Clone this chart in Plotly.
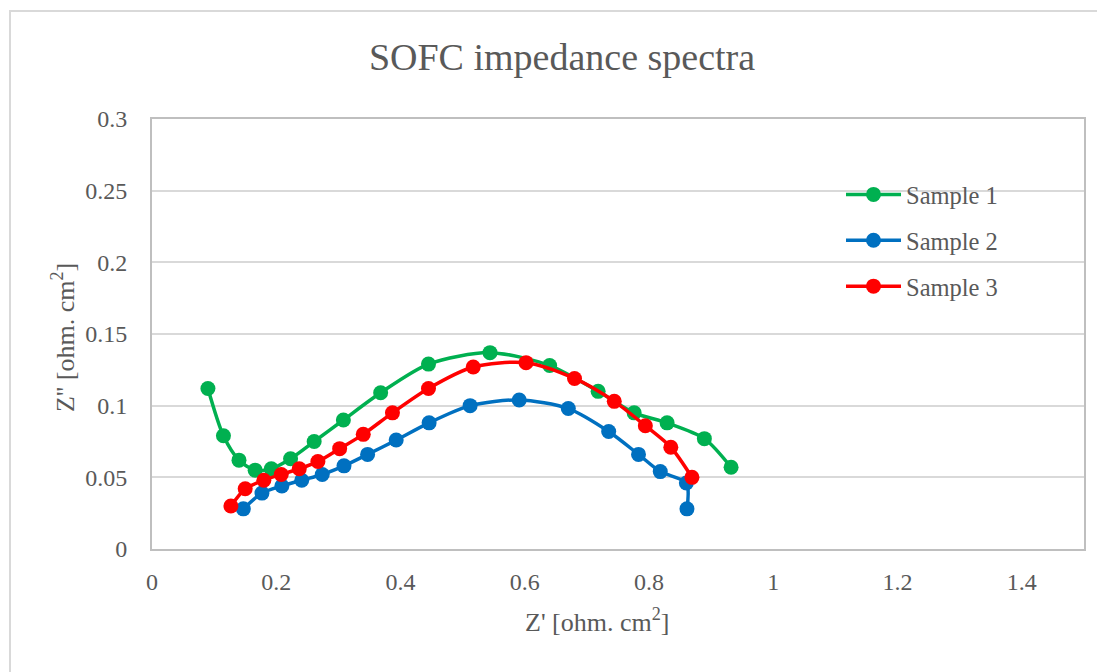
import plotly.graph_objects as go

# Data
s1_x = [0.090, 0.115, 0.140, 0.166, 0.192, 0.223, 0.261, 0.308, 0.368, 0.445, 0.544, 0.640, 0.718, 0.776, 0.829, 0.889, 0.932]
s1_y = [0.112, 0.079, 0.062, 0.055, 0.056, 0.063, 0.075, 0.090, 0.109, 0.129, 0.137, 0.128, 0.110, 0.095, 0.088, 0.077, 0.057]

s2_x = [0.147, 0.177, 0.209, 0.241, 0.274, 0.309, 0.347, 0.393, 0.446, 0.512, 0.591, 0.670, 0.735, 0.783, 0.818, 0.860, 0.861]
s2_y = [0.028, 0.039, 0.044, 0.048, 0.052, 0.058, 0.066, 0.076, 0.088, 0.100, 0.104, 0.098, 0.082, 0.066, 0.054, 0.046, 0.028]

s3_x = [0.127, 0.150, 0.180, 0.208, 0.237, 0.267, 0.302, 0.340, 0.387, 0.445, 0.517, 0.602, 0.680, 0.744, 0.794, 0.835, 0.869]
s3_y = [0.030, 0.042, 0.048, 0.052, 0.056, 0.061, 0.070, 0.080, 0.095, 0.112, 0.127, 0.130, 0.119, 0.103, 0.086, 0.071, 0.050]

names = ["Sample 1", "Sample 2", "Sample 3"]
colors = ["#00B050", "#0070C0", "#FF0000"]

x_ticks = [0, 0.2, 0.4, 0.6, 0.8, 1, 1.2, 1.4]
x_ticklabels = ["0", "0.2", "0.4", "0.6", "0.8", "1", "1.2", "1.4"]
y_ticks = [0, 0.05, 0.1, 0.15, 0.2, 0.25, 0.3]
y_ticklabels = ["0", "0.05", "0.1", "0.15", "0.2", "0.25", "0.3"]

FONT = "Liberation Serif, DejaVu Serif, serif"
TXT = "#595959"

fig = go.Figure()
for xs, ys, nm, col in zip([s1_x, s2_x, s3_x], [s1_y, s2_y, s3_y], names, colors):
    fig.add_trace(go.Scatter(
        x=xs, y=ys, name=nm, mode="lines+markers",
        line=dict(color=col, width=3.5, shape="spline", smoothing=0.8),
        marker=dict(color=col, size=15),
        legendgroup=nm,
    ))

# page body has an 8px margin: work in screen pixels and shift
OFF = 8
W, H = 1105 - OFF, 672 - OFF
PL, PR, PT, PB = 152, 1084, 119, 549  # plot area in screen pixels
L, T = PL - OFF, PT - OFF
R = W - (PR - OFF)
B = H - (PB - OFF)
PW, PH = PR - PL, PB - PT


def px(xs):
    return (xs - PL) / PW


def py(ys):
    return (PB - ys) / PH


fig.update_layout(
    width=W, height=H,
    margin=dict(l=L, r=R, t=T, b=B),
    paper_bgcolor="white", plot_bgcolor="white",
    font=dict(family=FONT, color=TXT, size=24),
    title=dict(text="SOFC impedance spectra", x=(562 - OFF) / W, xanchor="center",
               y=1 - (57 - OFF) / H, yanchor="middle", yref="container",
               font=dict(family=FONT, size=38, color=TXT)),
    showlegend=True,
    legend=dict(x=px(841), y=py(172), xanchor="left", yanchor="top",
                bgcolor="rgba(0,0,0,0)", font=dict(family=FONT, size=24.5, color=TXT),
                itemwidth=55, tracegroupgap=11, traceorder="grouped"),
    xaxis=dict(range=[0, 1.5], tickvals=x_ticks, ticktext=x_ticklabels,
               showgrid=False, zeroline=False, showline=True, mirror=True,
               linecolor="#bfbfbf", linewidth=2, ticks="", ticklabelstandoff=10,
               tickfont=dict(family=FONT, size=24, color=TXT)),
    yaxis=dict(range=[0, 0.3], tickvals=y_ticks, ticktext=y_ticklabels,
               showgrid=True, gridcolor="#d9d9d9", gridwidth=1.5,
               zeroline=False, showline=True, mirror=True,
               linecolor="#bfbfbf", linewidth=2, ticks="", ticklabelstandoff=18,
               tickfont=dict(family=FONT, size=24, color=TXT)),
    annotations=[
        dict(text="Z' [ohm. cm<sup>2</sup>]", xref="paper", yref="paper",
             x=px(597), y=py(620), xanchor="center", yanchor="middle",
             showarrow=False, font=dict(family=FONT, size=26, color=TXT)),
        dict(text="Z'' [ohm. cm<sup>2</sup>]", xref="paper", yref="paper",
             x=px(63), y=py(338), xanchor="center", yanchor="middle",
             textangle=-90, showarrow=False, font=dict(family=FONT, size=26, color=TXT)),
    ],
    shapes=[
        dict(type="rect", xref="paper", yref="paper",
             x0=px(10), x1=2.0, y0=-2.0, y1=py(11),
             line=dict(color="#d9d9d9", width=2), fillcolor="rgba(0,0,0,0)", layer="below"),
    ],
)

fig.write_html("out.html")
